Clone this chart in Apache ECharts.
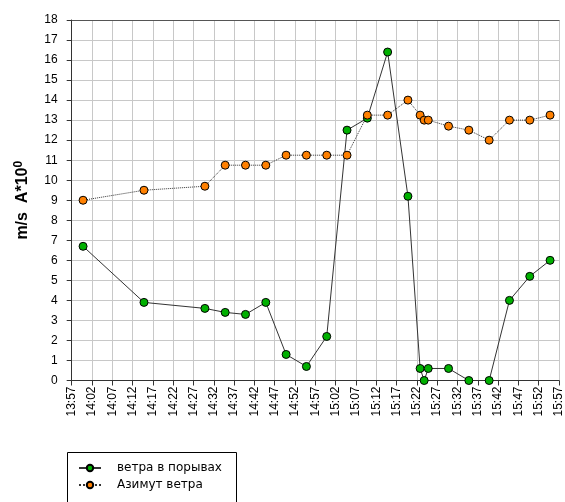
<!DOCTYPE html>
<html><head><meta charset="utf-8">
<script src="https://cdn.jsdelivr.net/npm/echarts@6/dist/echarts.min.js"></script>
<style>html,body{margin:0;padding:0;background:#fff}#c{width:565px;height:502px}</style>
</head><body><div id="c"></div>
<script>
// x-axis origin is 13:57; x values are minutes after 13:57
const startClock = [13, 57];
const xMinutes = [2.8, 17.8, 32.8, 37.8, 42.8, 47.8, 52.8, 57.8, 62.8, 67.8, 72.8, 77.8, 82.8, 85.8, 86.8, 87.8, 92.8, 97.8, 102.8, 107.8, 112.8, 117.8];
const gust = [6.7, 3.9, 3.6, 3.4, 3.3, 3.9, 1.3, 0.7, 2.2, 12.5, 13.1, 16.4, 9.2, 0.6, 0, 0.6, 0.6, 0, 0, 4.0, 5.2, 6.0];
const azimuth = [9.0, 9.5, 9.7, 10.75, 10.75, 10.75, 11.25, 11.25, 11.25, 11.25, 13.25, 13.25, 14.0, 13.25, 13.0, 13.0, 12.7, 12.5, 12.0, 13.0, 13.0, 13.25];
const seriesNames = ['ветра в порывах', 'Азимут ветра'];
const yTitleMain = 'm/s  A*10';
const yTitleSup = '0';

const font = 'Liberation Sans, Arial, sans-serif';
function clock(v) {
  const t = startClock[0] * 60 + startClock[1] + v;
  const h = Math.floor(t / 60), m = Math.round(t % 60);
  return h + ':' + (m < 10 ? '0' : '') + m;
}
const chart = echarts.init(document.getElementById('c'), null, {renderer: 'canvas'});
chart.setOption({
  animation: false,
  backgroundColor: '#fff',
  textStyle: {fontFamily: font},
  grid: {left: 71.7, right: 6, top: 20, bottom: 121.5, containLabel: false},
  xAxis: [{
    type: 'value', min: 0, max: 120, interval: 5,
    axisLine: {onZero: false, lineStyle: {color: '#333', width: 1}},
    axisTick: {show: true, length: 5, lineStyle: {color: '#333'}},
    axisLabel: {rotate: 90, fontSize: 12, color: '#000', margin: 6, fontFamily: font, formatter: clock, showMinLabel: true, showMaxLabel: true},
    splitLine: {show: true, lineStyle: {color: '#c8c8c8', width: 1}}
  }, {
    type: 'value', position: 'top', min: 0, max: 120, interval: 5,
    axisLine: {onZero: false, lineStyle: {color: '#555', width: 1}},
    axisTick: {show: false}, axisLabel: {show: false}, splitLine: {show: false}
  }],
  yAxis: {
    type: 'value', min: 0, max: 18, interval: 1,
    name: '{a|' + yTitleMain + '}{s|' + yTitleSup + '}',
    nameLocation: 'middle', nameGap: 39,
    nameTextStyle: {rich: {
      a: {fontSize: 16, fontWeight: 'bold', color: '#000', fontFamily: font},
      s: {fontSize: 12, fontWeight: 'bold', color: '#000', fontFamily: font, padding: [0, 0, 8, 0]}
    }},
    axisLine: {show: true, lineStyle: {color: '#333', width: 1}},
    axisTick: {show: true, length: 5, lineStyle: {color: '#333'}},
    axisLabel: {fontSize: 12, color: '#000', margin: 14, fontFamily: font},
    splitLine: {show: true, lineStyle: {color: '#c8c8c8', width: 1}}
  },
  legend: {
    orient: 'vertical', left: 78, top: 459.5, padding: 0, itemWidth: 22, itemHeight: 8, itemGap: 0,
    textStyle: {fontSize: 12, color: '#000', fontFamily: 'DejaVu Sans, sans-serif', lineHeight: 17, padding: [0, 0, 0, 11]},
    data: seriesNames
  },
  graphic: [{type: 'rect', shape: {x: 67.5, y: 452.5, width: 169, height: 60}, style: {fill: null, stroke: '#000', lineWidth: 1}, silent: true}],
  series: [
    {
      name: seriesNames[0], type: 'line', symbol: 'circle', symbolSize: 8,
      data: xMinutes.map((x, i) => [x, gust[i]]),
      itemStyle: {color: '#00b000', borderColor: '#000', borderWidth: 1},
      lineStyle: {color: '#333', width: 1, type: 'solid'}
    },
    {
      name: seriesNames[1], type: 'line', symbol: 'circle', symbolSize: 8,
      data: xMinutes.map((x, i) => [x, azimuth[i]]),
      itemStyle: {color: '#ff8000', borderColor: '#000', borderWidth: 1},
      lineStyle: {color: '#333', width: 1, type: 'dotted'}
    }
  ]
});
</script></body></html>
